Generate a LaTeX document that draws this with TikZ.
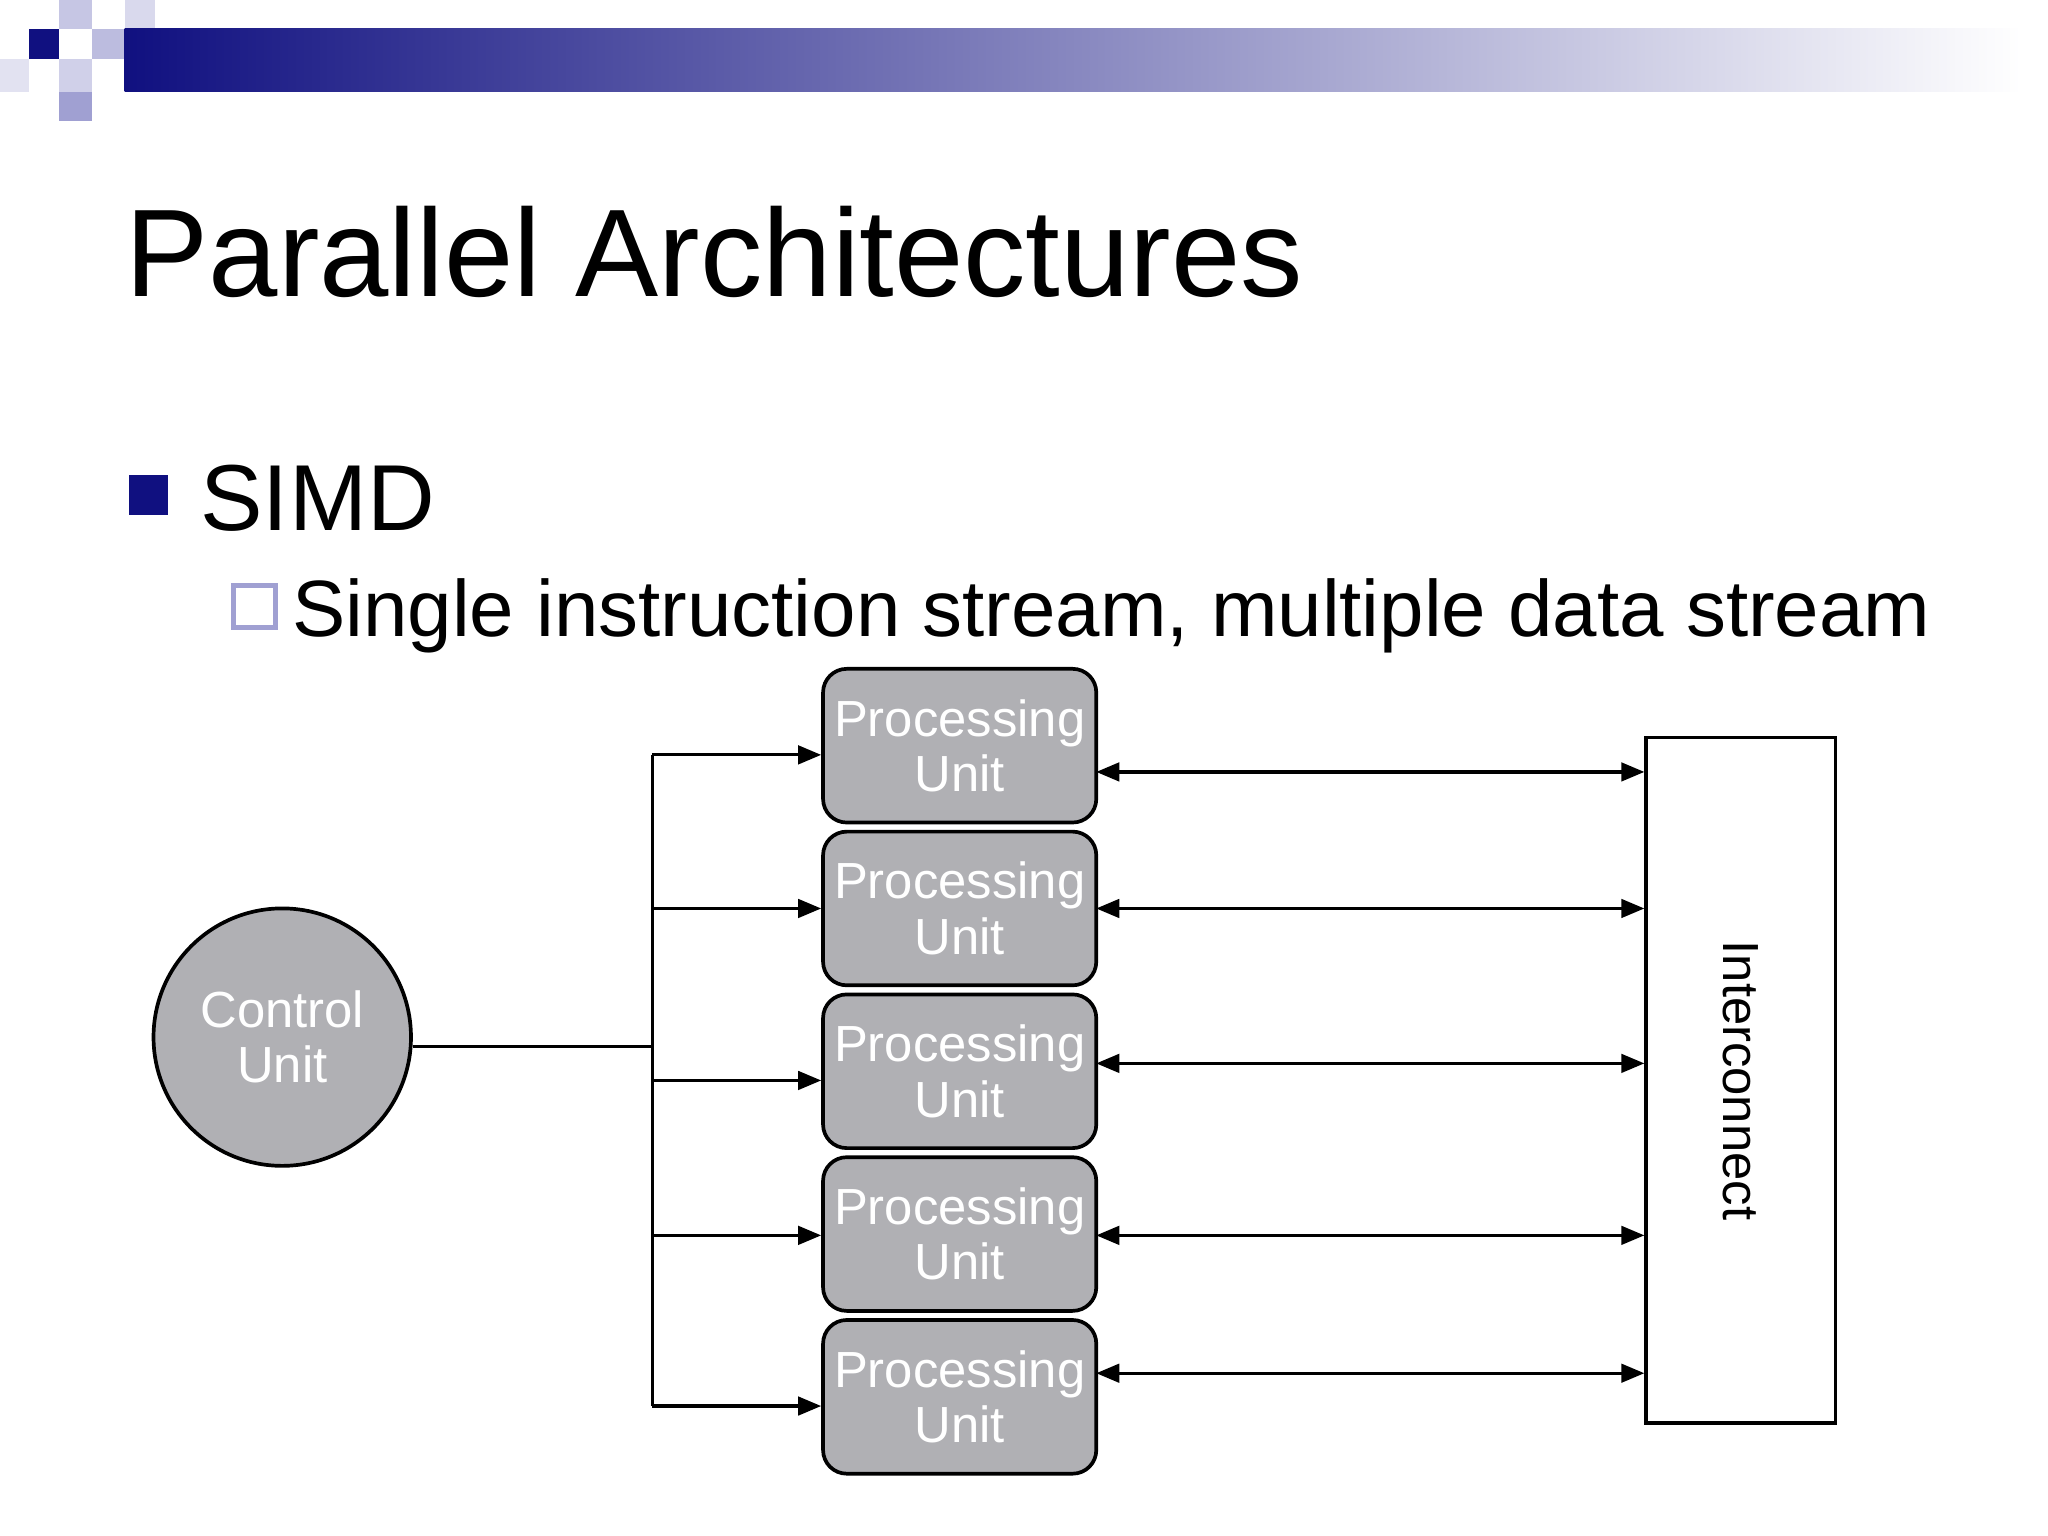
\documentclass[tikz,border=0pt]{standalone}
\usepackage{fontspec}
\setmainfont{Liberation Sans}
\usetikzlibrary{arrows.meta}
\definecolor{navy}{RGB}{16,16,128}
\definecolor{lav}{RGB}{160,160,210}
\definecolor{pugray}{RGB}{176,176,180}
\begin{document}
\begin{tikzpicture}[x=0.01cm,y=-0.01cm,
  pu/.style={draw=black,fill=pugray,rounded corners=0.18cm,minimum width=2.08cm,minimum height=1.17cm,inner sep=0pt,align=center,text=white,font=\fontsize{11pt}{12pt}\selectfont,line width=0.8pt},
  arr/.style={-{Triangle[length=5pt,width=4pt]},line width=0.7pt},
  darr/.style={{Triangle[length=5pt,width=4pt]}-{Triangle[length=5pt,width=4pt]},line width=0.7pt},
  ln/.style={line width=0.7pt}]
\useasboundingbox (0,0) rectangle (1560,1170);
% logo
\fill[lav!60] (45,0) rectangle (70,22);
\fill[lav!40] (95,0) rectangle (118,22);
\fill[lav!70] (70,22) rectangle (95,45);
\fill[navy] (22,22) rectangle (45,45);
\fill[lav!50] (45,45) rectangle (70,70);
\fill[lav!30] (0,45) rectangle (22,70);
\fill[lav] (45,70) rectangle (70,92);
\shade[left color=navy,right color=white] (95,22) rectangle (1540,70);
% title
\node[anchor=base west,inner sep=0pt,font=\fontsize{27pt}{28pt}\selectfont] (title) at (95,226) {Parallel Architectures};
\fill[navy] (98,362) rectangle (128,392);
\node[anchor=base west,inner sep=0pt,font=\fontsize{20.3pt}{21pt}\selectfont] (simd) at (152,404) {SIMD};
\draw[lav,line width=1.2pt] (178,446) rectangle (210,478);
\node[anchor=base west,inner sep=0pt,font=\fontsize{17.3pt}{18pt}\selectfont] (sub) at (222,485) {Single instruction stream, multiple data stream};
% control unit
\node[circle,draw=black,fill=pugray,minimum size=1.96cm,align=center,text=white,font=\fontsize{11pt}{12pt}\selectfont,line width=0.8pt] (cu) at (215,790) {Control\\Unit};
% PUs
\foreach \i/\y in {1/568,2/692,3/816,4/940,5/1064}{
  \node[pu] (p\i) at (731,\y) {Processing\\Unit};
}
\node[draw=black,line width=0.8pt,minimum width=1.44cm,minimum height=5.22cm,inner sep=0pt] (ic) at (1326,823) {};
\node[rotate=-90,font=\fontsize{11pt}{12pt}\selectfont] (ict) at (1326,823) {Interconnect};
% bus
\coordinate (b0) at (497,797);
\coordinate (bt) at (497,575);
\coordinate (bb) at (497,1071);
\draw[ln] (cu.east |- b0) -- (b0);
\draw[ln] (bt) -- (bb);
\foreach \i/\y in {1/575,2/692,3/823,4/941,5/1071}{
  \coordinate (s\i) at (497,\y);
  \draw[arr] (s\i) -- (s\i -| p\i.west);
}
\foreach \i/\y in {1/588,2/692,3/810,4/941,5/1046}{
  \coordinate (r\i) at (835,\y);
  \draw[darr] (r\i) -- (r\i -| ic.west);
}
\end{tikzpicture}
\end{document}
